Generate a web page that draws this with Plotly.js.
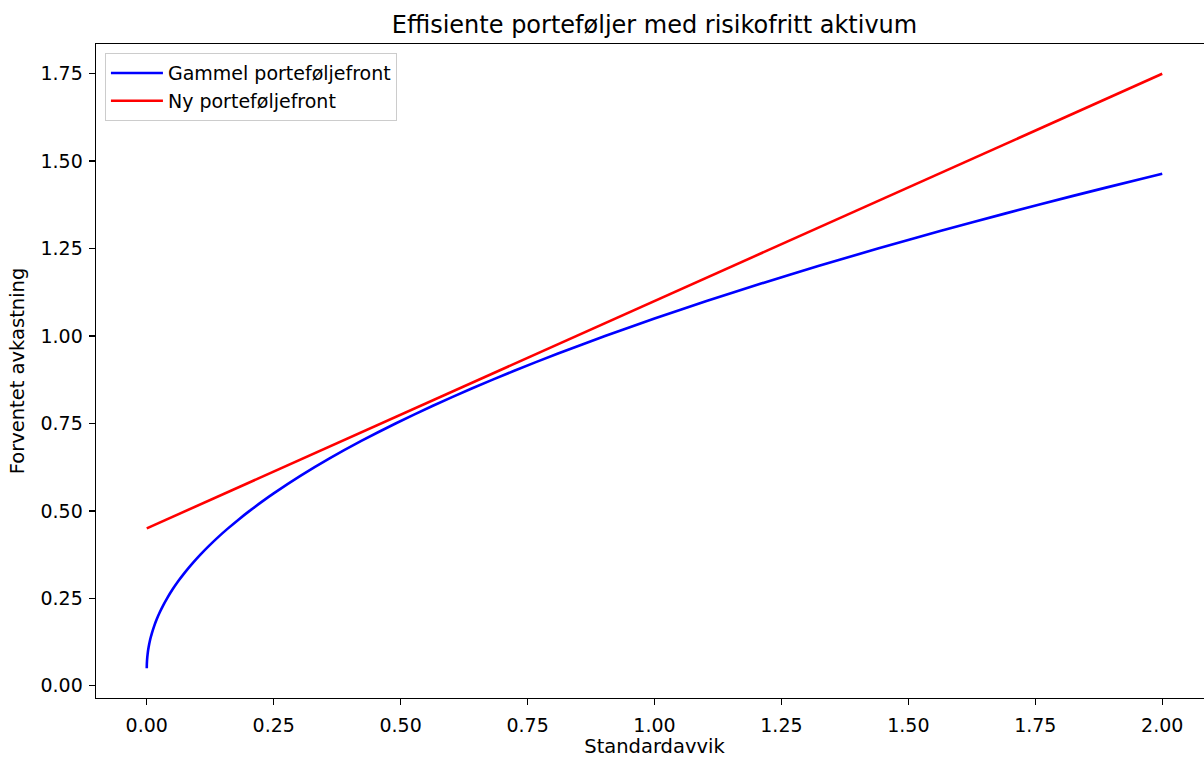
<!DOCTYPE html>
<html>
<head>
<meta charset="utf-8">
<script src="https://cdn.plot.ly/plotly-3.0.1.min.js"></script>
<style>
html, body { margin: 0; padding: 0; overflow: hidden; background: #fff; }
#chart { width: 1213px; height: 758px; }
</style>
</head>
<body>
<div id="chart"></div>
<script>
// Values
const oldFrontX = [0, 0.0001, 0.0004, 0.0009, 0.0016, 0.0025, 0.0036, 0.0049, 0.0064, 0.0081, 0.01, 0.0144, 0.0196, 0.0256, 0.0324, 0.04, 0.0506, 0.0625, 0.0756, 0.09, 0.1056, 0.1225, 0.1406, 0.16, 0.1806, 0.2025, 0.2256, 0.25, 0.3025, 0.36, 0.4225, 0.49, 0.5625, 0.64, 0.7225, 0.81, 0.9025, 1.0, 1.1025, 1.21, 1.3225, 1.44, 1.5625, 1.69, 1.8225, 1.96, 2.0];
const oldFrontY = [0.05, 0.06, 0.07, 0.08, 0.09, 0.10, 0.11, 0.12, 0.13, 0.14, 0.15, 0.17, 0.19, 0.21, 0.23, 0.25, 0.275, 0.30, 0.325, 0.35, 0.375, 0.40, 0.425, 0.45, 0.475, 0.50, 0.525, 0.55, 0.60, 0.65, 0.70, 0.75, 0.80, 0.85, 0.90, 0.95, 1.00, 1.05, 1.10, 1.15, 1.20, 1.25, 1.30, 1.35, 1.40, 1.45, 1.464];
const newFrontX = [0, 2.0];
const newFrontY = [0.45, 1.75];
const seriesNames = ["Gammel porteføljefront", "Ny porteføljefront"];
const tickVals = [0, 0.25, 0.5, 0.75, 1.0, 1.25, 1.5, 1.75, 2.0];
const yTickVals = [0, 0.25, 0.5, 0.75, 1.0, 1.25, 1.5, 1.75];

const FONT = "DejaVu Sans, sans-serif";

const traces = [
  { x: oldFrontX, y: oldFrontY, mode: "lines", name: seriesNames[0],
    line: { color: "#0000ff", width: 2.6, shape: "spline", smoothing: 0.6 } },
  { x: newFrontX, y: newFrontY, mode: "lines", name: seriesNames[1],
    line: { color: "#ff0000", width: 2.6 } }
];

const axisCommon = {
  showgrid: false, zeroline: false,
  showline: true, linecolor: "#000", linewidth: 1.4, mirror: true,
  ticks: "outside", ticklen: 6, tickwidth: 1.4, tickcolor: "#000",
  tickformat: ".2f",
  tickfont: { family: FONT, size: 19, color: "#000" }
};

const layout = {
  width: 1213, height: 758,
  paper_bgcolor: "#fff", plot_bgcolor: "#fff",
  margin: { l: 96, r: 0, t: 44, b: 60 },
  title: { text: "Effisiente porteføljer med risikofritt aktivum",
    font: { family: FONT, size: 24, color: "#000" },
    x: 0.5, xref: "paper", xanchor: "center", y: 1 - 25/758, yanchor: "middle" },
  xaxis: Object.assign({}, axisCommon, {
    range: [-0.1, 2.1], tickvals: tickVals, ticklabelstandoff: 4,
    title: { text: "Standardavvik", font: { family: FONT, size: 19.5, color: "#000" }, standoff: 11 }
  }),
  yaxis: Object.assign({}, axisCommon, {
    range: [-0.035, 1.835], tickvals: yTickVals, ticklabelstandoff: 2,
    title: { text: "Forventet avkastning", font: { family: FONT, size: 19.5, color: "#000" }, standoff: 10 }
  }),
  showlegend: true,
  legend: {
    x: 0.008, y: 0.986, xanchor: "left", yanchor: "top",
    itemwidth: 52,
    bgcolor: "rgba(255,255,255,0.8)", bordercolor: "#cccccc", borderwidth: 1,
    font: { family: FONT, size: 19, color: "#000" }
  }
};

Plotly.newPlot("chart", traces, layout, { displayModeBar: false, staticPlot: true });
</script>
</body>
</html>
